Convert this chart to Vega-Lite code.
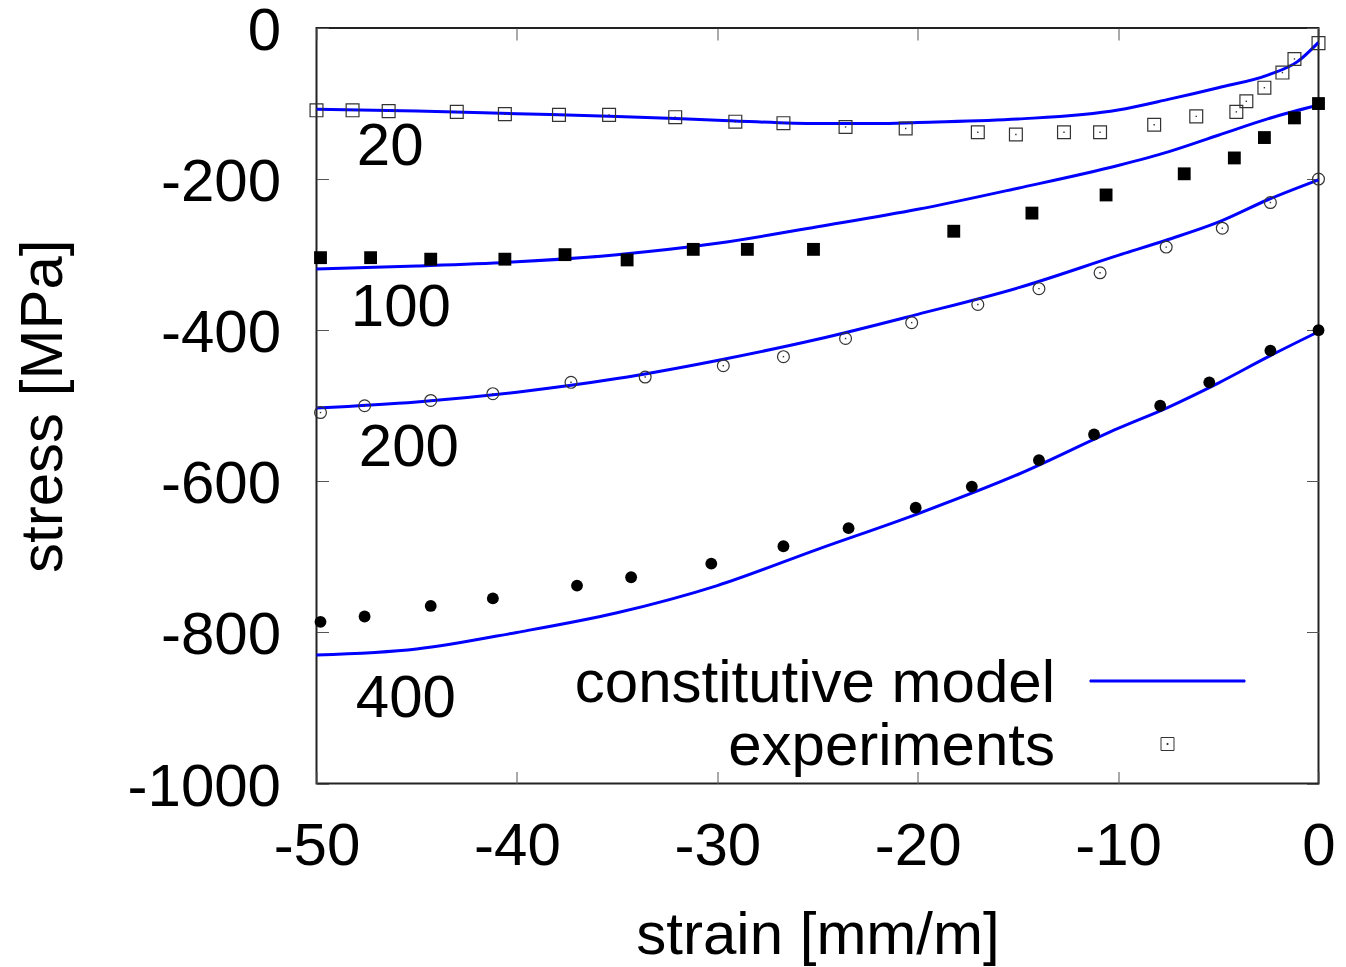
{
  "$schema": "https://vega.github.io/schema/vega-lite/v6.json",
  "width": 1002,
  "height": 755.5,
  "autosize": "none",
  "padding": {"left": 316.5, "top": 28, "right": 27.5, "bottom": 183.5},
  "background": "white",
  "config": {
    "view": {"stroke": "#222", "strokeWidth": 2},
    "font": "Liberation Sans",
    "axis": {
      "grid": false,
      "domain": false,
      "tickSize": -12,
      "tickColor": "#555",
      "tickWidth": 1,
      "labelFont": "Liberation Sans",
      "labelFontSize": 60,
      "labelColor": "black",
      "labelFlush": false,
      "labelOverlap": false,
      "labelBound": false,
      "titleFont": "Liberation Sans",
      "titleFontSize": 60,
      "titleFontWeight": "normal",
      "titleColor": "black"
    }
  },
  "datasets": {
    "curves": [
      {"series": "20", "type": "experiments", "strain": -50.0, "stress": -109},
      {"series": "20", "type": "experiments", "strain": -48.2, "stress": -109},
      {"series": "20", "type": "experiments", "strain": -46.4, "stress": -110},
      {"series": "20", "type": "experiments", "strain": -43.0, "stress": -111},
      {"series": "20", "type": "experiments", "strain": -40.6, "stress": -114},
      {"series": "20", "type": "experiments", "strain": -37.9, "stress": -115},
      {"series": "20", "type": "experiments", "strain": -35.4, "stress": -115},
      {"series": "20", "type": "experiments", "strain": -32.1, "stress": -118},
      {"series": "20", "type": "experiments", "strain": -29.1, "stress": -124},
      {"series": "20", "type": "experiments", "strain": -26.7, "stress": -126},
      {"series": "20", "type": "experiments", "strain": -23.6, "stress": -131},
      {"series": "20", "type": "experiments", "strain": -20.6, "stress": -133},
      {"series": "20", "type": "experiments", "strain": -17.0, "stress": -138},
      {"series": "20", "type": "experiments", "strain": -15.1, "stress": -141},
      {"series": "20", "type": "experiments", "strain": -12.7, "stress": -138},
      {"series": "20", "type": "experiments", "strain": -10.9, "stress": -138},
      {"series": "20", "type": "experiments", "strain": -8.2, "stress": -128},
      {"series": "20", "type": "experiments", "strain": -6.1, "stress": -117},
      {"series": "20", "type": "experiments", "strain": -4.1, "stress": -111},
      {"series": "20", "type": "experiments", "strain": -3.6, "stress": -97},
      {"series": "20", "type": "experiments", "strain": -2.7, "stress": -79},
      {"series": "20", "type": "experiments", "strain": -1.8, "stress": -59},
      {"series": "20", "type": "experiments", "strain": -1.2, "stress": -41},
      {"series": "20", "type": "experiments", "strain": 0.0, "stress": -20},

      {"series": "100", "type": "experiments", "strain": -49.8, "stress": -304},
      {"series": "100", "type": "experiments", "strain": -47.3, "stress": -304},
      {"series": "100", "type": "experiments", "strain": -44.3, "stress": -306},
      {"series": "100", "type": "experiments", "strain": -40.6, "stress": -306},
      {"series": "100", "type": "experiments", "strain": -37.6, "stress": -300},
      {"series": "100", "type": "experiments", "strain": -34.5, "stress": -307},
      {"series": "100", "type": "experiments", "strain": -31.2, "stress": -293},
      {"series": "100", "type": "experiments", "strain": -28.5, "stress": -293},
      {"series": "100", "type": "experiments", "strain": -25.2, "stress": -293},
      {"series": "100", "type": "experiments", "strain": -18.2, "stress": -269},
      {"series": "100", "type": "experiments", "strain": -14.3, "stress": -245},
      {"series": "100", "type": "experiments", "strain": -10.6, "stress": -221},
      {"series": "100", "type": "experiments", "strain": -6.7, "stress": -193},
      {"series": "100", "type": "experiments", "strain": -4.2, "stress": -172},
      {"series": "100", "type": "experiments", "strain": -2.7, "stress": -145},
      {"series": "100", "type": "experiments", "strain": -1.2, "stress": -119},
      {"series": "100", "type": "experiments", "strain": 0.0, "stress": -100},

      {"series": "200", "type": "experiments", "strain": -49.8, "stress": -509},
      {"series": "200", "type": "experiments", "strain": -47.6, "stress": -500},
      {"series": "200", "type": "experiments", "strain": -44.3, "stress": -493},
      {"series": "200", "type": "experiments", "strain": -41.2, "stress": -484},
      {"series": "200", "type": "experiments", "strain": -37.3, "stress": -469},
      {"series": "200", "type": "experiments", "strain": -33.6, "stress": -462},
      {"series": "200", "type": "experiments", "strain": -29.7, "stress": -447},
      {"series": "200", "type": "experiments", "strain": -26.7, "stress": -435},
      {"series": "200", "type": "experiments", "strain": -23.6, "stress": -411},
      {"series": "200", "type": "experiments", "strain": -20.3, "stress": -390},
      {"series": "200", "type": "experiments", "strain": -17.0, "stress": -366},
      {"series": "200", "type": "experiments", "strain": -13.95, "stress": -345},
      {"series": "200", "type": "experiments", "strain": -10.9, "stress": -324},
      {"series": "200", "type": "experiments", "strain": -7.6, "stress": -290},
      {"series": "200", "type": "experiments", "strain": -4.8, "stress": -265},
      {"series": "200", "type": "experiments", "strain": -2.4, "stress": -231},
      {"series": "200", "type": "experiments", "strain": 0.0, "stress": -200},

      {"series": "400", "type": "experiments", "strain": -49.8, "stress": -786},
      {"series": "400", "type": "experiments", "strain": -47.6, "stress": -779},
      {"series": "400", "type": "experiments", "strain": -44.3, "stress": -765},
      {"series": "400", "type": "experiments", "strain": -41.2, "stress": -755},
      {"series": "400", "type": "experiments", "strain": -37.0, "stress": -738},
      {"series": "400", "type": "experiments", "strain": -34.3, "stress": -727},
      {"series": "400", "type": "experiments", "strain": -30.3, "stress": -709},
      {"series": "400", "type": "experiments", "strain": -26.7, "stress": -686},
      {"series": "400", "type": "experiments", "strain": -23.45, "stress": -662},
      {"series": "400", "type": "experiments", "strain": -20.1, "stress": -635},
      {"series": "400", "type": "experiments", "strain": -17.3, "stress": -607},
      {"series": "400", "type": "experiments", "strain": -13.95, "stress": -572},
      {"series": "400", "type": "experiments", "strain": -11.2, "stress": -538},
      {"series": "400", "type": "experiments", "strain": -7.9, "stress": -500},
      {"series": "400", "type": "experiments", "strain": -5.45, "stress": -469},
      {"series": "400", "type": "experiments", "strain": -2.4, "stress": -427},
      {"series": "400", "type": "experiments", "strain": 0.0, "stress": -400},

      {"series": "20", "type": "constitutive model", "strain": -50, "stress": -107.5},
      {"series": "20", "type": "constitutive model", "strain": -45, "stress": -110},
      {"series": "20", "type": "constitutive model", "strain": -40, "stress": -113.5},
      {"series": "20", "type": "constitutive model", "strain": -35, "stress": -117},
      {"series": "20", "type": "constitutive model", "strain": -30, "stress": -122},
      {"series": "20", "type": "constitutive model", "strain": -25, "stress": -126.5},
      {"series": "20", "type": "constitutive model", "strain": -22, "stress": -126.5},
      {"series": "20", "type": "constitutive model", "strain": -20, "stress": -125},
      {"series": "20", "type": "constitutive model", "strain": -15, "stress": -120.5},
      {"series": "20", "type": "constitutive model", "strain": -10, "stress": -108.5},
      {"series": "20", "type": "constitutive model", "strain": -7.5, "stress": -94.5},
      {"series": "20", "type": "constitutive model", "strain": -5, "stress": -79},
      {"series": "20", "type": "constitutive model", "strain": -2.5, "stress": -62},
      {"series": "20", "type": "constitutive model", "strain": -1.05, "stress": -44.5},
      {"series": "20", "type": "constitutive model", "strain": 0, "stress": -19},

      {"series": "100", "type": "constitutive model", "strain": -50, "stress": -319},
      {"series": "100", "type": "constitutive model", "strain": -45, "stress": -315},
      {"series": "100", "type": "constitutive model", "strain": -40, "stress": -309.5},
      {"series": "100", "type": "constitutive model", "strain": -35, "stress": -300},
      {"series": "100", "type": "constitutive model", "strain": -30, "stress": -285},
      {"series": "100", "type": "constitutive model", "strain": -25, "stress": -263},
      {"series": "100", "type": "constitutive model", "strain": -20, "stress": -240},
      {"series": "100", "type": "constitutive model", "strain": -15, "stress": -212},
      {"series": "100", "type": "constitutive model", "strain": -10, "stress": -182},
      {"series": "100", "type": "constitutive model", "strain": -7.5, "stress": -164},
      {"series": "100", "type": "constitutive model", "strain": -5, "stress": -142},
      {"series": "100", "type": "constitutive model", "strain": -2.5, "stress": -120},
      {"series": "100", "type": "constitutive model", "strain": 0, "stress": -102},

      {"series": "200", "type": "constitutive model", "strain": -50, "stress": -503},
      {"series": "200", "type": "constitutive model", "strain": -45, "stress": -495},
      {"series": "200", "type": "constitutive model", "strain": -40, "stress": -482},
      {"series": "200", "type": "constitutive model", "strain": -35, "stress": -464},
      {"series": "200", "type": "constitutive model", "strain": -30, "stress": -440},
      {"series": "200", "type": "constitutive model", "strain": -25, "stress": -412},
      {"series": "200", "type": "constitutive model", "strain": -20, "stress": -379},
      {"series": "200", "type": "constitutive model", "strain": -15, "stress": -344},
      {"series": "200", "type": "constitutive model", "strain": -10, "stress": -301},
      {"series": "200", "type": "constitutive model", "strain": -7.5, "stress": -280},
      {"series": "200", "type": "constitutive model", "strain": -5, "stress": -257},
      {"series": "200", "type": "constitutive model", "strain": -2.5, "stress": -227},
      {"series": "200", "type": "constitutive model", "strain": 0, "stress": -201},

      {"series": "400", "type": "constitutive model", "strain": -50, "stress": -830},
      {"series": "400", "type": "constitutive model", "strain": -45, "stress": -822},
      {"series": "400", "type": "constitutive model", "strain": -40, "stress": -800},
      {"series": "400", "type": "constitutive model", "strain": -35, "stress": -774},
      {"series": "400", "type": "constitutive model", "strain": -30, "stress": -738},
      {"series": "400", "type": "constitutive model", "strain": -25, "stress": -690},
      {"series": "400", "type": "constitutive model", "strain": -20, "stress": -643},
      {"series": "400", "type": "constitutive model", "strain": -15, "stress": -591},
      {"series": "400", "type": "constitutive model", "strain": -10, "stress": -530},
      {"series": "400", "type": "constitutive model", "strain": -7.5, "stress": -502},
      {"series": "400", "type": "constitutive model", "strain": -5, "stress": -470},
      {"series": "400", "type": "constitutive model", "strain": -2.5, "stress": -435},
      {"series": "400", "type": "constitutive model", "strain": 0, "stress": -402}
    ],
    "labels": [
      {"label": "20", "strain": -47.99, "stress": -153},
      {"label": "100", "strain": -48.29, "stress": -366},
      {"label": "200", "strain": -47.89, "stress": -551},
      {"label": "400", "strain": -48.04, "stress": -884}
    ]
  },
  "layer": [
    {
      "data": {"name": "curves"},
      "transform": [{"filter": "datum.type === 'constitutive model'"}],
      "mark": {"type": "line", "strokeWidth": 3, "interpolate": "monotone"},
      "encoding": {
        "x": {
          "field": "strain", "type": "quantitative",
          "scale": {"domain": [-50, 0], "nice": false, "zero": false},
          "axis": {
            "orient": "bottom",
            "values": [-50, -40, -30, -20, -10, 0],
            "labelPadding": 46,
            "labelExpr": "'' + datum.value",
            "title": "strain [mm/m]",
            "titleY": 169.5,
            "titleBaseline": "alphabetic",
            "encode": {"labels": {"update": {"dx": {"signal": "datum.value == 0 ? 8 : 0"}}}}
          }
        },
        "y": {
          "field": "stress", "type": "quantitative",
          "scale": {"domain": [-1000, 0], "nice": false, "zero": false},
          "axis": {
            "orient": "left",
            "values": [0, -200, -400, -600, -800, -1000],
            "labelPadding": 48,
            "labelOffset": 3.5,
            "labelExpr": "'' + datum.value",
            "title": "stress [MPa]",
            "titleX": -254.8,
            "titleY": 377.75,
            "titleBaseline": "alphabetic"
          }
        },
        "detail": {"field": "series", "type": "nominal"},
        "color": {
          "field": "type", "type": "nominal",
          "scale": {"domain": ["constitutive model", "experiments"], "range": ["#0000ff", "#333333"]},
          "legend": {
            "orient": "none",
            "legendX": 821,
            "legendY": 623,
            "title": null,
            "padding": 0,
            "rowPadding": 0,
            "symbolSize": 3481,
            "symbolStrokeWidth": 1,
            "labelFont": "Liberation Sans",
            "labelFontSize": 60,
            "labelColor": "black",
            "labelAlign": "right",
            "labelBaseline": "middle",
            "labelOffset": -142.5,
            "labelLimit": 1000,
            "encode": {
              "symbols": {
                "update": {
                  "shape": {"signal": "datum.value === 'experiments' ? 'M-0.22,-0.22h0.44v0.44h-0.44zM-0.02,-0.02h0.04v0.04h-0.04z' : 'M-2.627,-0.034h5.254v0.068h-5.254z'"},
                  "fill": {"signal": "datum.value === 'experiments' ? 'transparent' : '#0000ff'"}
                }
              },
              "labels": {"update": {"dy": {"value": 3}}}
            }
          }
        }
      }
    },
    {
      "data": {"name": "curves"},
      "transform": [{"filter": "datum.type === 'experiments' && datum.series === '20'"}],
      "mark": {"type": "point", "shape": "square", "size": 165, "filled": false, "stroke": "#333", "strokeWidth": 1.2, "opacity": 1},
      "encoding": {
        "x": {
          "field": "strain", "type": "quantitative",
          "axis": {"orient": "top", "values": [-50, -40, -30, -20, -10, 0], "labels": false, "title": null}
        },
        "y": {
          "field": "stress", "type": "quantitative",
          "axis": {"orient": "right", "values": [0, -200, -400, -600, -800, -1000], "labels": false, "title": null}
        }
      }
    },
    {
      "data": {"name": "curves"},
      "transform": [{"filter": "datum.type === 'experiments' && datum.series === '200'"}],
      "mark": {"type": "point", "shape": "circle", "size": 140, "filled": false, "stroke": "#333", "strokeWidth": 1.2, "opacity": 1},
      "encoding": {
        "x": {"field": "strain", "type": "quantitative", "axis": null},
        "y": {"field": "stress", "type": "quantitative", "axis": null}
      }
    },
    {
      "data": {"name": "curves"},
      "transform": [{"filter": "datum.type === 'experiments' && (datum.series === '20' || datum.series === '200')"}],
      "mark": {"type": "square", "size": 2, "color": "#333", "opacity": 1},
      "encoding": {
        "x": {"field": "strain", "type": "quantitative", "axis": null},
        "y": {"field": "stress", "type": "quantitative", "axis": null}
      }
    },
    {
      "data": {"name": "curves"},
      "transform": [{"filter": "datum.type === 'experiments' && datum.series === '100'"}],
      "mark": {"type": "point", "shape": "square", "size": 165, "filled": true, "color": "black", "opacity": 1},
      "encoding": {
        "x": {"field": "strain", "type": "quantitative", "axis": null},
        "y": {"field": "stress", "type": "quantitative", "axis": null}
      }
    },
    {
      "data": {"name": "curves"},
      "transform": [{"filter": "datum.type === 'experiments' && datum.series === '400'"}],
      "mark": {"type": "point", "shape": "circle", "size": 140, "filled": true, "color": "black", "opacity": 1},
      "encoding": {
        "x": {"field": "strain", "type": "quantitative", "axis": null},
        "y": {"field": "stress", "type": "quantitative", "axis": null}
      }
    },
    {
      "data": {"name": "labels"},
      "mark": {"type": "text", "align": "left", "baseline": "middle", "dy": 3.5, "font": "Liberation Sans", "fontSize": 60, "color": "black"},
      "encoding": {
        "x": {"field": "strain", "type": "quantitative", "axis": null},
        "y": {"field": "stress", "type": "quantitative", "axis": null},
        "text": {"field": "label", "type": "nominal"}
      }
    }
  ],
  "resolve": {"axis": {"x": "independent", "y": "independent"}}
}
